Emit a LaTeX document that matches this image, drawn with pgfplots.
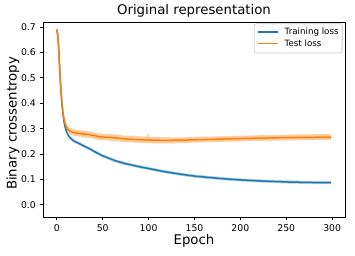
\documentclass[border=0pt]{standalone}
\usepackage{fontspec}
\setmainfont{DejaVu Sans}
\usepackage{pgfplots}
\usepackage{pgfplotstable}
\pgfplotsset{compat=1.18}
\usepgfplotslibrary{fillbetween}
\definecolor{mplblue}{HTML}{1F77B4}
\definecolor{mplorange}{HTML}{FF7F0E}

\pgfplotstableread{
ep mean lo hi
0 0.690 0.685 0.695
1 0.672 0.667 0.677
2 0.620 0.615 0.625
3 0.550 0.545 0.555
4 0.480 0.475 0.485
5 0.425 0.420 0.430
6 0.383 0.378 0.388
7 0.350 0.345 0.355
8 0.325 0.320 0.330
9 0.307 0.302 0.312
10 0.295 0.290 0.300
11 0.285 0.280 0.290
12 0.277 0.272 0.282
13 0.271 0.265 0.277
14 0.266 0.260 0.272
16 0.259 0.253 0.265
18 0.253 0.247 0.259
20 0.249 0.243 0.255
25 0.240 0.234 0.246
30 0.231 0.225 0.237
35 0.222 0.216 0.228
40 0.212 0.206 0.218
46 0.200 0.194 0.206
50 0.193 0.187 0.199
57 0.183 0.177 0.189
65 0.172 0.166 0.178
75 0.162 0.156 0.168
90 0.150 0.144 0.156
100 0.143 0.137 0.149
115 0.132 0.126 0.138
134 0.121 0.115 0.127
150 0.113 0.107 0.119
177 0.104 0.098 0.110
200 0.098 0.092 0.104
221 0.094 0.088 0.100
250 0.090 0.084 0.096
275 0.088 0.082 0.094
299 0.087 0.081 0.093
}\train

\pgfplotstableread{
ep mean lo hi
0 0.690 0.684 0.696
1 0.672 0.665 0.679
2 0.622 0.614 0.630
3 0.552 0.544 0.560
4 0.484 0.476 0.492
5 0.430 0.422 0.438
6 0.390 0.382 0.398
7 0.360 0.352 0.369
8 0.338 0.329 0.347
9 0.322 0.312 0.332
10 0.311 0.300 0.322
11 0.304 0.292 0.316
12 0.298 0.287 0.311
13 0.294 0.281 0.305
14 0.291 0.279 0.304
15 0.289 0.277 0.301
16 0.288 0.275 0.302
18 0.285 0.273 0.296
20 0.284 0.271 0.298
22 0.282 0.270 0.293
24 0.281 0.268 0.295
26 0.281 0.269 0.292
28 0.279 0.266 0.294
30 0.278 0.266 0.290
32 0.278 0.264 0.291
34 0.277 0.265 0.289
36 0.276 0.263 0.290
38 0.274 0.262 0.287
40 0.273 0.260 0.286
42 0.272 0.260 0.284
44 0.270 0.257 0.285
46 0.268 0.256 0.280
48 0.268 0.255 0.282
50 0.267 0.255 0.279
53 0.266 0.253 0.280
56 0.266 0.254 0.278
59 0.265 0.252 0.279
62 0.264 0.252 0.276
65 0.263 0.250 0.277
68 0.262 0.250 0.275
71 0.261 0.248 0.274
74 0.260 0.248 0.272
77 0.259 0.246 0.273
80 0.259 0.247 0.271
83 0.258 0.245 0.272
86 0.257 0.245 0.269
89 0.257 0.244 0.271
92 0.256 0.244 0.268
95 0.256 0.243 0.270
98 0.255 0.243 0.267
100 0.257 0.243 0.282
101 0.255 0.242 0.268
104 0.255 0.243 0.267
107 0.254 0.241 0.268
110 0.255 0.243 0.266
113 0.254 0.241 0.267
116 0.254 0.243 0.265
119 0.254 0.241 0.267
122 0.254 0.243 0.265
125 0.254 0.242 0.266
130 0.255 0.244 0.266
140 0.255 0.244 0.266
150 0.256 0.245 0.267
160 0.257 0.246 0.268
170 0.258 0.247 0.269
180 0.259 0.248 0.270
190 0.260 0.249 0.271
200 0.261 0.250 0.272
210 0.262 0.251 0.273
220 0.263 0.252 0.274
230 0.263 0.252 0.274
240 0.264 0.253 0.275
250 0.265 0.254 0.276
260 0.265 0.254 0.277
270 0.266 0.255 0.277
280 0.266 0.255 0.278
290 0.267 0.256 0.278
299 0.267 0.256 0.278
}\test

\begin{document}
\begin{tikzpicture}
\begin{axis}[
  at={(43pt,39pt)}, anchor=south west,
  scale only axis, width=302pt, height=195pt,
  xmin=-15, xmax=314, ymin=-0.048, ymax=0.72,
  xtick={0,50,100,150,200,250,300},
  ytick={0,0.1,0.2,0.3,0.4,0.5,0.6,0.7},
  /pgf/number format/assume math mode=true,
  tick align=outside, xtick pos=left, ytick pos=left,
  major tick length=3.5pt,
  tick style={black, line width=0.8pt},
  axis line style={black, line width=0.8pt},
  ticklabel style={font=\fontsize{9.3}{11}\selectfont},
  xticklabel style={inner sep=0pt, anchor=north, yshift=-3.5pt},
  yticklabel style={inner sep=0pt, anchor=east, xshift=-3.5pt,
    /pgf/number format/fixed, /pgf/number format/fixed zerofill, /pgf/number format/precision=1},
  title={Original representation},
  title style={at={(axis description cs:0.5,1)}, anchor=base, yshift=1pt, font=\fontsize{13.3}{15}\selectfont},
  xlabel={Epoch},
  xlabel style={at={(axis description cs:0.5,0)}, anchor=base, yshift=-28pt, font=\fontsize{13.3}{15}\selectfont},
  ylabel={Binary crossentropy},
  ylabel style={at={(axis description cs:-0.087,0.48)}, anchor=base, font=\fontsize{13.3}{15}\selectfont},
]
\addplot[draw=none, name path=TH, forget plot] table[x=ep, y=hi] {\train};
\addplot[draw=none, name path=TL, forget plot] table[x=ep, y=lo] {\train};
\addplot[mplblue, fill opacity=0.35, draw=none, forget plot] fill between[of=TH and TL];
\addplot[mplblue, line width=1.5pt, forget plot] table[x=ep, y=mean] {\train};
\addplot[draw=none, name path=VH, forget plot] table[x=ep, y=hi] {\test};
\addplot[draw=none, name path=VL, forget plot] table[x=ep, y=lo] {\test};
\addplot[mplorange, fill opacity=0.4, draw=none, forget plot] fill between[of=VH and VL];
\addplot[mplorange, line width=1.5pt, forget plot] table[x=ep, y=mean] {\test};
\node[anchor=north east, xshift=-2.5pt, yshift=-1.3pt, draw=black!20, line width=0.8pt,
      rounded corners=2pt, fill=white, inner xsep=3.5pt, inner ysep=3pt,
      font=\fontsize{8.7}{11.7}\selectfont] at (rel axis cs:1,1)
  {\begin{tabular}{@{}l@{\hspace{6.5pt}}l@{}}
   \textcolor{mplblue}{\rule[2.3pt]{20.5pt}{1.5pt}} & Training loss\\
   \textcolor{mplorange}{\rule[2.3pt]{20.5pt}{1.5pt}} & Test loss
   \end{tabular}};
\end{axis}
\path (0pt,0pt) rectangle (355pt,256pt);
\end{tikzpicture}
\end{document}
